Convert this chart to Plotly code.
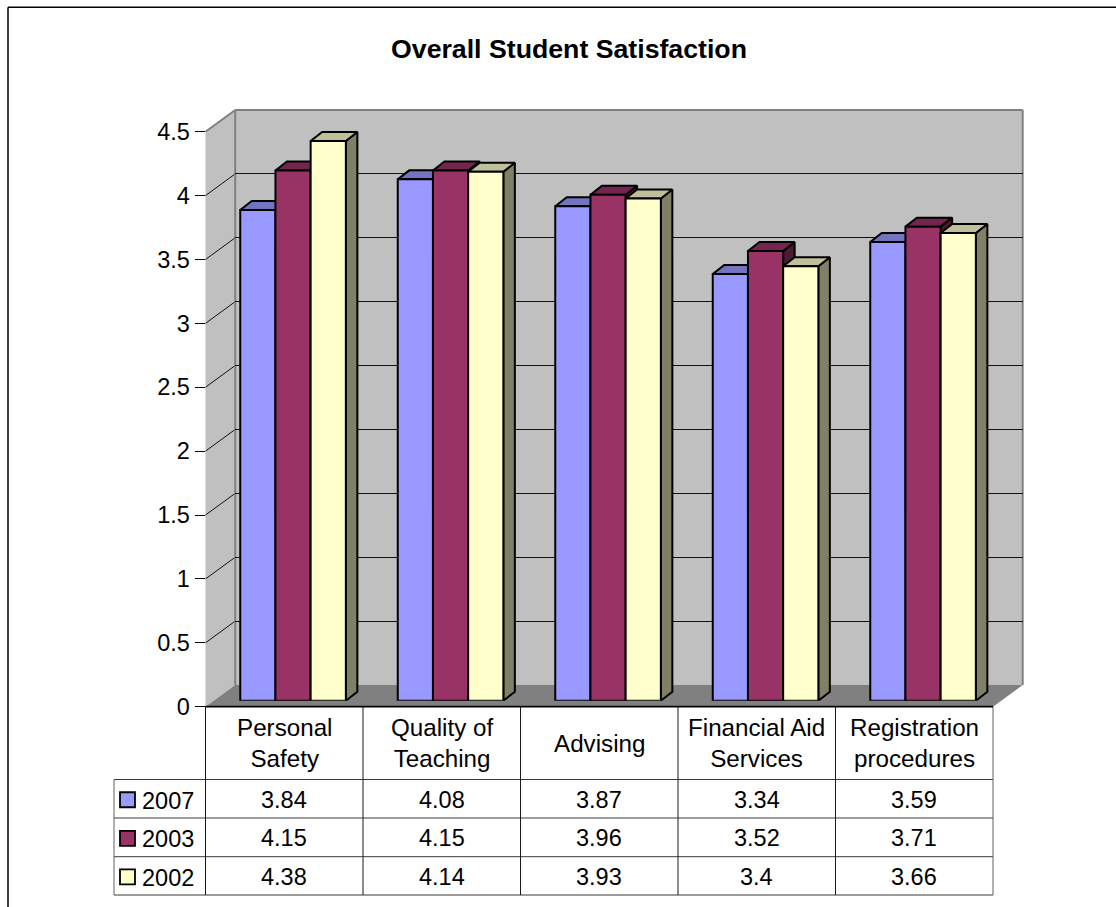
import plotly.graph_objects as go

# Survey data
categories = ["Personal<br>Safety", "Quality of<br>Teaching", "Advising",
              "Financial Aid<br>Services", "Registration<br>procedures"]
years = ["2007", "2003", "2002"]
values_2007 = [3.84, 4.08, 3.87, 3.34, 3.59]
values_2003 = [4.15, 4.15, 3.96, 3.52, 3.71]
values_2002 = [4.38, 4.14, 3.93, 3.4, 3.66]
tick_values = [0, 0.5, 1, 1.5, 2, 2.5, 3, 3.5, 4, 4.5]
tick_labels = ["0", "0.5", "1", "1.5", "2", "2.5", "3", "3.5", "4", "4.5"]

series = [values_2007, values_2003, values_2002]
front_colors = ["#9999FF", "#993366", "#FFFFCC"]
top_colors = ["#7373BF", "#73264D", "#BFBF99"]
side_colors = ["#4D4D80", "#4D1A33", "#808066"]

W, H = 1116, 907
FONT = "Liberation Sans, Arial, sans-serif"
TEXT_SIZE = 23.5
HEADING_SIZE = 24.2

# Layout of the pseudo-3D box, in page pixels
X0, X1 = 205.5, 993.0
Y_ZERO, Y_TOP = 706.7, 131.7
WALL_DX, WALL_DY = 29.7, 21.7
BAR_RISE = 6.0
ROW_LINES = [706.7, 779.5, 818.0, 856.7, 895.0]
TABLE_LEFT = 114.0
BAR_EDGE = 2.0

cat_px = (X1 - X0) / len(categories)
val_px = (Y_ZERO - Y_TOP) / (tick_values[-1] - tick_values[0])

# Bar footprint, in category and value units
BAR_WIDTH = 35.2 / cat_px
BAR_START = -44.0 / cat_px
DEPTH_X = 11.5 / cat_px
DEPTH_Y = 9.0 / val_px


def fx(p):
    return p / W


def fy(p):
    return 1 - p / H


def poly(points):
    path = "M " + " L ".join(f"{fx(x)},{fy(y)}" for x, y in points) + " Z"
    return dict(type="path", path=path, xref="paper", yref="paper", layer="below")


def line(x0, y0, x1, y1, color="#000000", width=1.0, layer="below"):
    return dict(type="line", xref="paper", yref="paper", layer=layer,
                x0=fx(x0), y0=fy(y0), x1=fx(x1), y1=fy(y1),
                line=dict(color=color, width=width))


shapes = []

# Walls and floor
shapes.append({**poly([(X0, Y_ZERO), (X0 + WALL_DX, Y_ZERO - WALL_DY),
                       (X0 + WALL_DX, Y_TOP - WALL_DY), (X0, Y_TOP)]),
               "fillcolor": "#C0C0C0", "line": dict(width=0)})
shapes.append({**poly([(X0 + WALL_DX, Y_ZERO - WALL_DY), (X1 + WALL_DX, Y_ZERO - WALL_DY),
                       (X1 + WALL_DX, Y_TOP - WALL_DY), (X0 + WALL_DX, Y_TOP - WALL_DY)]),
               "fillcolor": "#C0C0C0", "line": dict(width=0)})
shapes.append({**poly([(X0, Y_ZERO), (X1, Y_ZERO),
                       (X1 + WALL_DX, Y_ZERO - WALL_DY), (X0 + WALL_DX, Y_ZERO - WALL_DY)]),
               "fillcolor": "#808080", "line": dict(width=0)})

# Slanted gridlines across the side wall
for v in tick_values[1:-1]:
    py = Y_ZERO - v * val_px
    shapes.append(line(X0, py, X0 + WALL_DX, py - WALL_DY, "#111111", 1))

# Wall outlines
EDGE = "#808080"
shapes.append(line(X0, Y_TOP, X0 + WALL_DX, Y_TOP - WALL_DY, EDGE, 2))
shapes.append(line(X0 + WALL_DX, Y_TOP - WALL_DY, X1 + WALL_DX, Y_TOP - WALL_DY, EDGE, 2))
shapes.append(line(X0 + WALL_DX, Y_TOP - WALL_DY, X0 + WALL_DX, Y_ZERO - WALL_DY, EDGE, 2))
shapes.append(line(X1 + WALL_DX, Y_TOP - WALL_DY, X1 + WALL_DX, Y_ZERO - WALL_DY, EDGE, 2))

# Chart frame, open towards the right and bottom page edges
shapes.append(line(8, 7.3, W + 5, 7.3, "#000000", 1.5))
shapes.append(line(8, 7.3, 8, H + 5, "#000000", 1.5))

# Data table rules
GRID = "#3A3A3A"
for i, py in enumerate(ROW_LINES[1:]):
    shapes.append(line(TABLE_LEFT, py, X1, py, GRID, 1))
shapes.append(line(TABLE_LEFT, ROW_LINES[1], TABLE_LEFT, ROW_LINES[-1], "#606060", 1))
shapes.append(line(X1, ROW_LINES[0], X1, ROW_LINES[-1], "#606060", 1))
for i in range(len(categories)):
    shapes.append(line(X0 + i * cat_px, ROW_LINES[0], X0 + i * cat_px, ROW_LINES[-1], "#1A1A1A", 1))
shapes.append(line(X0, Y_ZERO, X1, Y_ZERO, "#000000", 1.8, layer="above"))

# Legend keys inside the table's first column
annotations = []
for r, name in enumerate(years):
    cy = (ROW_LINES[r + 1] + ROW_LINES[r + 2]) / 2
    shapes.append(dict(type="rect", xref="paper", yref="paper", layer="above",
                       x0=fx(120), x1=fx(135), y0=fy(cy - 6.5), y1=fy(cy + 8.5),
                       fillcolor=front_colors[r], line=dict(color="#000000", width=1.8)))
    annotations.append(dict(text=name, xref="paper", yref="paper", x=fx(140), y=fy(cy + 2),
                            xanchor="left", yanchor="middle", showarrow=False))
    for c, v in enumerate(series[r]):
        annotations.append(dict(text=str(v), xref="x", yref="paper", x=c, y=fy(cy + 1),
                                xanchor="center", yanchor="middle", showarrow=False))

# Category headings of the table
for c, name in enumerate(categories):
    annotations.append(dict(text=name, xref="x", yref="paper", x=c,
                            y=fy((ROW_LINES[0] + ROW_LINES[1]) / 2), xanchor="center",
                            yanchor="middle", showarrow=False,
                            font=dict(family=FONT, size=HEADING_SIZE, color="#000000")))

fig = go.Figure()

# Front faces are real bars; depth faces are projected from the same values
for s, vals in enumerate(series):
    offset = BAR_START + s * BAR_WIDTH
    top_x, top_y, side_x, side_y = [], [], [], []
    for c, v in enumerate(vals):
        left = c + offset
        right = left + BAR_WIDTH
        top_x += [left, left + DEPTH_X, right + DEPTH_X, right, left, None]
        top_y += [v, v + DEPTH_Y, v + DEPTH_Y, v, v, None]
        side_x += [right, right + DEPTH_X, right + DEPTH_X, right, right, None]
        side_y += [0, DEPTH_Y, v + DEPTH_Y, v, 0, None]
    z = 2 * s + 1
    for px, py, col in ((side_x, side_y, side_colors[s]), (top_x, top_y, top_colors[s])):
        fig.add_trace(go.Scatter(x=px, y=py, xaxis="x3", yaxis="y3", mode="lines",
                                 fill="toself", fillcolor=col, zorder=z, showlegend=False,
                                 line=dict(color="#000000", width=BAR_EDGE), hoverinfo="skip"))
    fig.add_trace(go.Bar(x=list(range(len(vals))), y=vals, xaxis="x3", yaxis="y3",
                         name=years[s], width=BAR_WIDTH, offset=offset, zorder=z + 1,
                         showlegend=False, marker=dict(color=front_colors[s],
                                                       line=dict(color="#000000", width=BAR_EDGE))))

# Invisible trace to hold the front-plane axes, and one for the back wall's grid
fig.add_trace(go.Scatter(x=[0], y=[0], mode="markers", marker=dict(opacity=0),
                         showlegend=False, hoverinfo="skip"))
fig.add_trace(go.Scatter(x=[0], y=[0], xaxis="x2", yaxis="y2", mode="markers",
                         marker=dict(opacity=0), showlegend=False, hoverinfo="skip"))

x_range = [-0.5, len(categories) - 0.5]
y_range = [tick_values[0], tick_values[-1]]
hidden = dict(visible=False, showgrid=False, zeroline=False, fixedrange=True, automargin=False)

fig.update_layout(
    template="none",
    width=W, height=H, autosize=False,
    margin=dict(l=0, r=0, t=0, b=0, pad=0, autoexpand=False),
    paper_bgcolor="#FFFFFF", plot_bgcolor="rgba(0,0,0,0)",
    font=dict(family=FONT, size=TEXT_SIZE, color="#000000"),
    barmode="overlay",
    title=dict(text="<b>Overall Student Satisfaction</b>", x=569 / W, xanchor="center",
               xref="paper", y=fy(49), yanchor="middle", yref="paper", automargin=False,
               font=dict(family=FONT, size=26.7, color="#000000")),
    # Front plane: value axis with its ticks
    xaxis=dict(domain=[fx(X0), fx(X1)], range=x_range, **hidden),
    yaxis=dict(domain=[fy(Y_ZERO), fy(Y_TOP)], range=y_range, tickvals=tick_values,
               ticktext=tick_labels, ticks="outside", ticklen=10, tickwidth=1,
               tickcolor="#000000", showline=True, linecolor="#000000", linewidth=1,
               showgrid=False, zeroline=False, fixedrange=True, automargin=False,
               tickfont=dict(family=FONT, size=TEXT_SIZE, color="#000000")),
    # Back wall: horizontal gridlines only
    xaxis2=dict(domain=[fx(X0 + WALL_DX), fx(X1 + WALL_DX)], range=x_range, anchor="y2", **hidden),
    yaxis2=dict(domain=[fy(Y_ZERO - WALL_DY), fy(Y_TOP - WALL_DY)], range=y_range, anchor="x2",
                tickvals=tick_values[1:-1], showticklabels=False, ticks="", showline=False,
                showgrid=True, gridcolor="#111111", gridwidth=1, zeroline=False,
                fixedrange=True, automargin=False),
    # Bar plane, set slightly back from the front plane
    xaxis3=dict(domain=[fx(X0), fx(X1)], range=x_range, anchor="y3", **hidden),
    yaxis3=dict(domain=[fy(Y_ZERO - BAR_RISE), fy(Y_TOP - BAR_RISE)], range=y_range,
                anchor="x3", **hidden),
    shapes=shapes,
    annotations=annotations,
)

fig.write_html("out.html", config=dict(displayModeBar=False))
